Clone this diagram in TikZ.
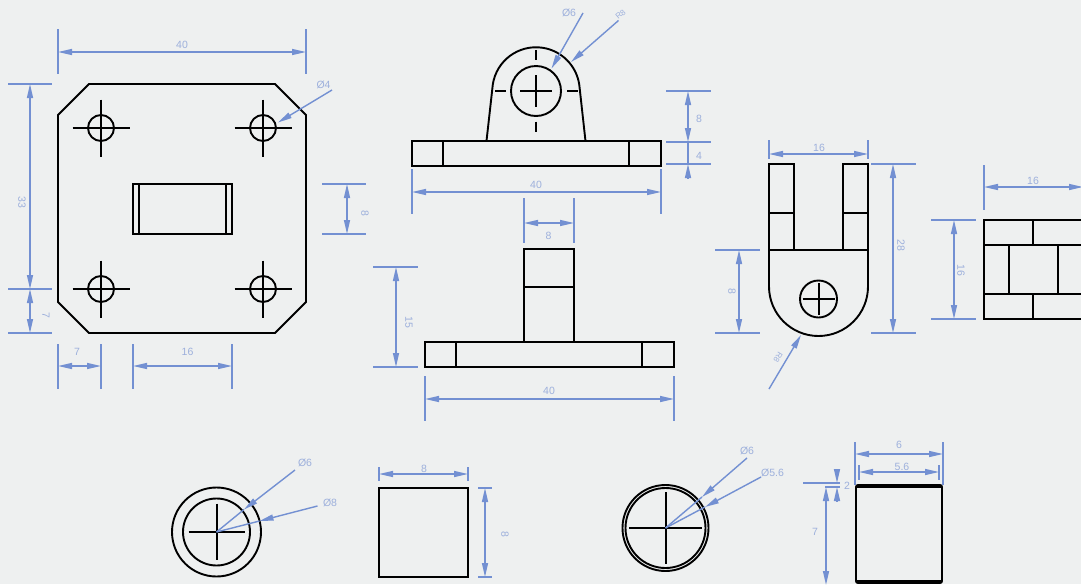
\documentclass[tikz,border=0pt]{standalone}
\usepackage{fontspec}
\setmainfont{Liberation Sans}
\usetikzlibrary{arrows.meta}
\definecolor{bgc}{HTML}{EEF0F0}
\definecolor{dimc}{HTML}{7390D2}
\definecolor{txtc}{HTML}{9DB0DC}
\tikzset{
  part/.style={draw=black,line width=1.9pt},
  thin part/.style={draw=black,line width=1.3pt},
  extline/.style={draw=dimc,line width=1.4pt},
  dimline/.style={draw=dimc,line width=1.4pt,{Triangle[length=14pt,width=6pt]}-{Triangle[length=14pt,width=6pt]}},
  leader/.style={draw=dimc,line width=1.4pt,-{Triangle[length=14pt,width=6pt]}},
  rleader/.style={draw=dimc,line width=1.4pt,{Triangle[length=14pt,width=6pt]}-},
  plainline/.style={draw=dimc,line width=1.4pt},
  lab/.style={text=txtc,font=\fontsize{10.5pt}{12pt}\selectfont,inner sep=0pt},
  vlab/.style={lab,rotate=-90},
  smalllab/.style={lab,font=\fontsize{8pt}{9pt}\selectfont},
}
\begin{document}
\begin{tikzpicture}[x=1pt,y=-1pt]
\fill[bgc] (0,0) rectangle (1081,584);
\useasboundingbox (0,0) rectangle (1081,584);
\clip (0,0) rectangle (1081,584);
% ---- plate
\draw[part] (89,84)--(275,84)--(306,115)--(306,302)--(275,333)--(89,333)--(58,302)--(58,115)--cycle;
\foreach \cx/\cy in {101/128,263/128,101/289,263/289}{
  \draw[part] (\cx,\cy) circle (13);
  \draw[thin part] (\cx-28.5,\cy)--(\cx+28.5,\cy) (\cx,\cy-28.5)--(\cx,\cy+28.5);
}
\draw[part] (133,184) rectangle (232,234);
\draw[part] (139,184)--(139,234);
\draw[thin part] (226,184)--(226,234);
% plate dims
\draw[extline] (58,29)--(58,74) (306,29)--(306,74);
\draw[dimline] (58,52)--(306,52);
\node[lab] (t40a) at (182,45) {40};
\draw[extline] (8,84)--(52,84) (8,289)--(52,289);
\draw[extline,line width=2pt] (8,333)--(52,333);
\draw[dimline] (30,84)--(30,289);
\draw[dimline] (30,289)--(30,333);
\node[vlab] (t33) at (22,202) {33};
\node[vlab] (t7a) at (46,315) {7};
\draw[extline] (322,184)--(366,184) (322,234)--(366,234);
\draw[dimline] (347,184)--(347,234);
\node[vlab] (t8a) at (365,213) {8};
\draw[extline] (58,344)--(58,389) (101,344)--(101,389) (133,344)--(133,389) (232,344)--(232,389);
\draw[dimline] (58,366)--(101,366);
\draw[dimline] (133,366)--(232,366);
\node[lab] (t7b) at (77,352) {7};
\node[lab] (t16a) at (187.5,352) {16};
\draw[leader] (332,90)--(278,122.5);
\node[lab] (td4) at (323.5,85) {Ø4};
% ---- top view
\draw[part] (412,141) rectangle (661,166);
\draw[part] (443,141)--(443,166) (629,141)--(629,166);
\draw[part] (486.5,141)--(492.8,84.5) arc[start angle=188.5,end angle=351.5,radius=43.7] --(585.5,141);
\draw[part] (536,91) circle (25);
\draw[thin part] (520,91)--(552,91) (536,75)--(536,107);
\draw[thin part] (495,91)--(505.5,91) (567,91)--(577.5,91) (536,50)--(536,60) (536,121.5)--(536,132);
\draw[leader] (583,13)--(551.5,68.5);
\node[lab] (td6a) at (569,13) {Ø6};
\draw[leader] (618.5,20.5)--(571,62);
\node[smalllab,rotate=40] (tr8a) at (620.5,14.5) {R8};
\draw[extline] (666,91)--(711,91) (666,142)--(711,142) (666,164)--(711,164);
\draw[dimline] (688,91)--(688,142);
\draw[rleader] (688,164)--(688,178.5);
\draw[plainline] (688,142)--(688,164);
\node[lab] (t8b) at (699,119) {8};
\node[lab] (t4) at (699,155.5) {4};
\draw[extline] (412,169)--(412,214) (661,169)--(661,214);
\draw[dimline] (412,192)--(661,192);
\node[lab] (t40b) at (536,185) {40};
% ---- front view
\draw[part] (425,342) rectangle (674,367);
\draw[part] (456,342)--(456,367) (642,342)--(642,367);
\draw[part] (524,342)--(524,249)--(574,249)--(574,342);
\draw[part] (524,287)--(574,287);
\draw[extline] (524,198)--(524,243) (574,198)--(574,243);
\draw[dimline] (524,223)--(574,223);
\node[lab] (t8c) at (548.5,236) {8};
\draw[extline] (373,267)--(418,267) (373,367)--(418,367);
\draw[dimline] (396,267)--(396,367);
\node[vlab] (t15) at (409,322) {15};
\draw[extline] (425,376)--(425,421) (674,376)--(674,421);
\draw[dimline] (425,399)--(674,399);
\node[lab] (t40c) at (549,391) {40};
% ---- side view
\draw[part] (769,164) rectangle (794,250);
\draw[part] (843,164) rectangle (868,250);
\draw[part] (769,213)--(794,213) (843,213)--(868,213);
\draw[part] (769,250)--(868,250);
\draw[part] (769,250)--(769,286.5) arc[start angle=180,end angle=0,radius=49.5] --(868,250);
\draw[part] (818.5,299) circle (18.5);
\draw[thin part] (802.5,299)--(834.5,299) (819,283)--(819,315);
\draw[extline] (769,140)--(769,159) (868,140)--(868,159);
\draw[dimline] (769,154)--(868,154);
\node[lab] (t16b) at (819,148) {16};
\draw[extline] (871,164)--(916,164) (871,333)--(916,333);
\draw[dimline] (893,164)--(893,333);
\node[vlab] (t28) at (901,245.5) {28};
\draw[extline] (715,250)--(760,250) (715,333)--(760,333);
\draw[dimline] (739,250)--(739,333);
\node[vlab] (t8d) at (732,291) {8};
\draw[leader] (769,389)--(801,335);
\node[smalllab,rotate=-121] (tr8b) at (778,357) {R8};
% ---- end view
\draw[part] (984,220) rectangle (1083,319);
\draw[part] (984,245)--(1083,245) (984,294)--(1083,294);
\draw[part] (1033,220)--(1033,245) (1033,294)--(1033,319);
\draw[part] (1009,245)--(1009,294) (1058,245)--(1058,294);
\draw[extline] (984,165)--(984,210);
\draw[dimline] (984,187)--(1083,187);
\node[lab] (t16c) at (1033,180.5) {16};
\draw[extline] (931,220)--(976,220) (931,319)--(976,319);
\draw[dimline] (954,220)--(954,319);
\node[vlab] (t16d) at (961,270) {16};
% ---- bush 1
\draw[part] (216.5,532) circle (44.5);
\draw[part] (216.5,532) circle (33.5);
\draw[thin part] (188.5,532)--(245,532) (217,503.5)--(217,560);
\draw[leader] (295,470)--(244,509.5);
\draw[plainline] (244,509.5)--(216.5,532);
\draw[leader] (317.5,506)--(259.5,521);
\draw[plainline] (259.5,521)--(216.5,532);
\node[lab] (td6b) at (305,463) {Ø6};
\node[lab] (td8) at (330,503) {Ø8};
\draw[part] (379,488) rectangle (468,577);
\draw[extline] (379,467)--(379,481) (468,467)--(468,481);
\draw[dimline] (379,474)--(468,474);
\node[lab] (t8e) at (424,468.5) {8};
\draw[extline] (478,488)--(492,488) (478,577)--(492,577);
\draw[dimline] (485,488)--(485,577);
\node[vlab] (t8f) at (505,534) {8};
% ---- bush 2
\draw[part] (665.5,528) circle (43);
\draw[part] (665.5,528) circle (40);
\draw[thin part] (629,528)--(702,528) (666,492)--(666,564);
\draw[leader] (747,458)--(702,497);
\draw[plainline] (702,497)--(665.5,528);
\draw[leader] (761,477)--(705,507);
\draw[plainline] (705,507)--(665.5,528);
\node[lab] (td6c) at (747,451) {Ø6};
\node[lab] (td56) at (772.5,473) {Ø5.6};
\draw[part,rounded corners=2pt] (856,485) rectangle (942,583);
\draw[part] (857,487)--(941,487) (857,581)--(941,581);
\draw[extline] (855,442)--(855,485) (943,442)--(943,485);
\draw[dimline] (855,454)--(943,454);
\node[lab] (t6) at (899,445) {6};
\draw[extline] (859,465)--(859,480) (939,465)--(939,480);
\draw[dimline] (859,472)--(939,472);
\node[lab] (t56) at (902,467) {5.6};
\draw[extline] (803,483)--(840,483) (825,487)--(840,487);
\draw[rleader] (837,483)--(837,468.5);
\draw[rleader] (837,487)--(837,501.5);
\node[lab] (t2) at (847,485.5) {2};
\draw[dimline] (826,487)--(826,585);
\node[lab] (t7c) at (815,532) {7};
\end{tikzpicture}
\end{document}
